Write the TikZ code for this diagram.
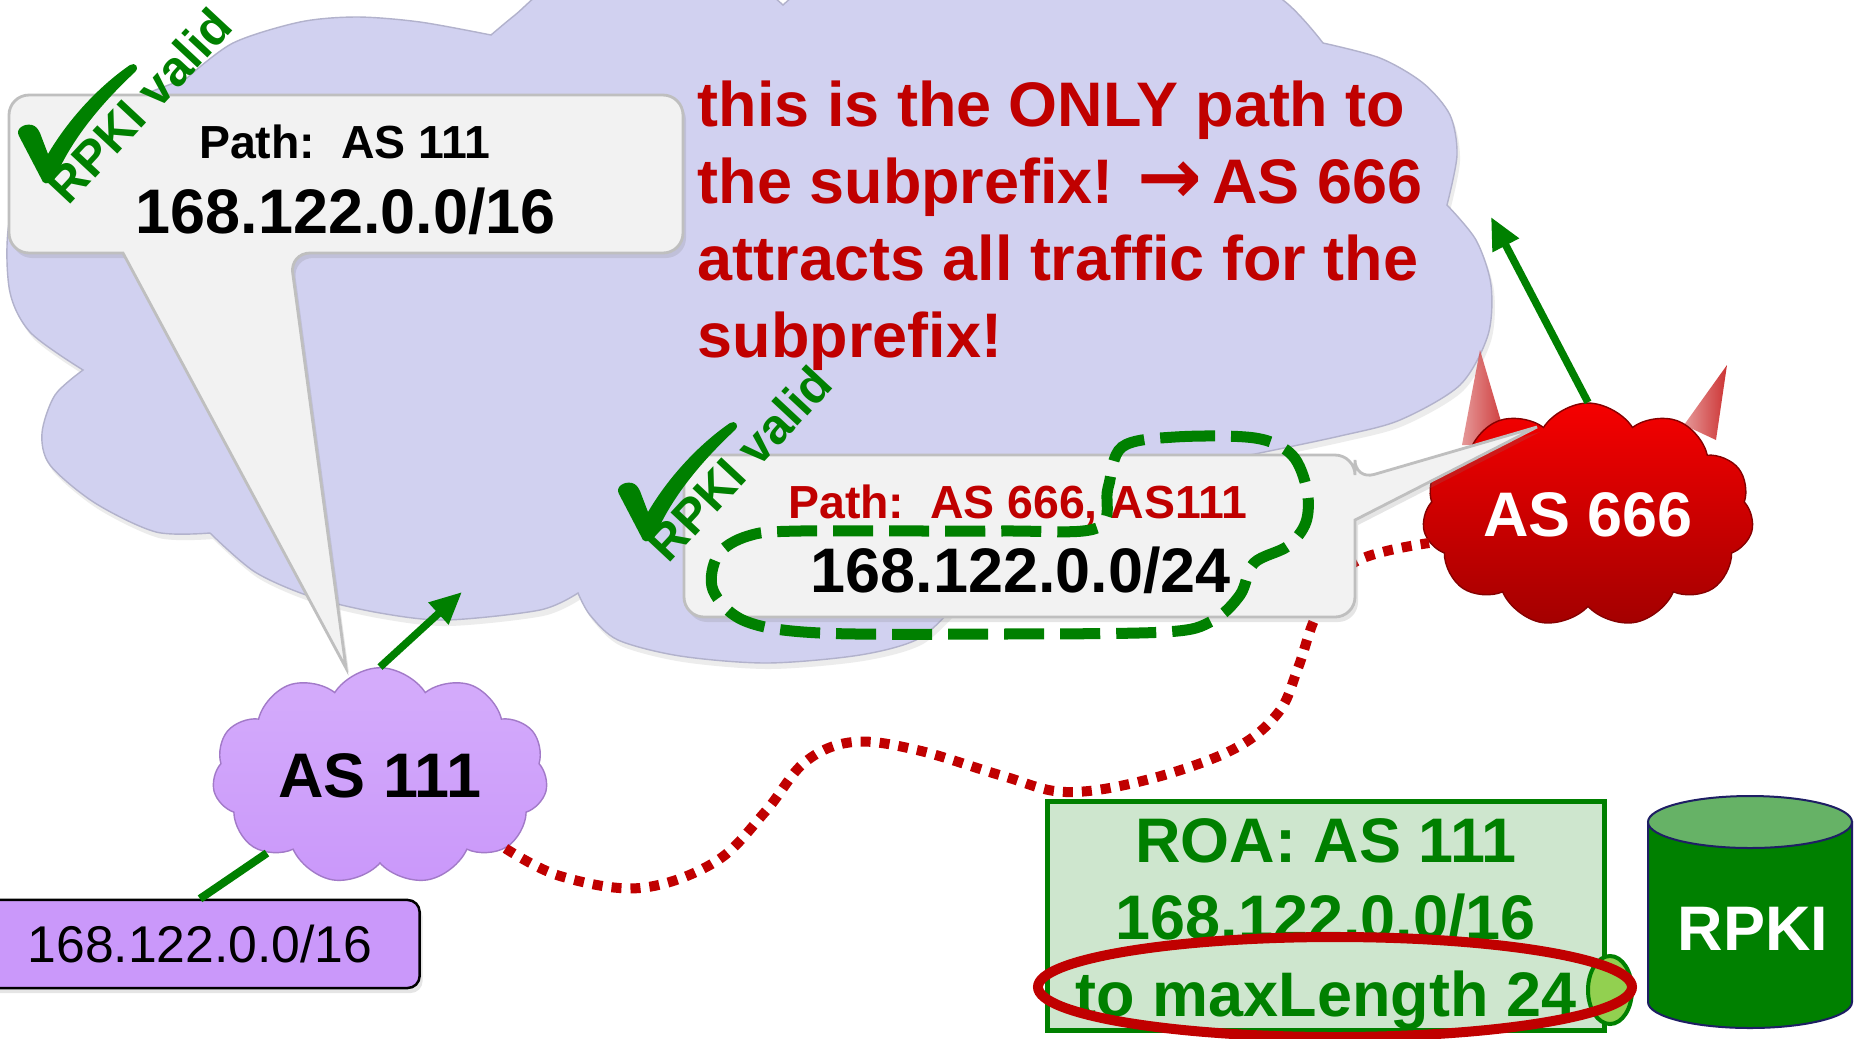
\documentclass[tikz,border=0pt]{standalone}
\usepackage{fontspec}
\setmainfont{Liberation Sans}
\newfontfamily\fleches{DejaVu Sans}
\usepackage{tikz}
\usetikzlibrary{positioning, shapes.symbols, arrows.meta, shadows}
\definecolor{lavande}{RGB}{209,209,240}
\definecolor{gris}{RGB}{242,242,242}
\definecolor{rouge}{RGB}{192,0,0}
\definecolor{vert}{RGB}{0,128,0}
\definecolor{mauve}{RGB}{202,152,250}
\definecolor{vertroa}{RGB}{206,230,206}
\definecolor{vertclair}{RGB}{146,208,80}
\definecolor{vertpale}{RGB}{102,178,102}
\definecolor{marine}{RGB}{30,30,100}
\newcommand\grand{\fontsize{17.9}{21.9}\selectfont}
\newcommand\moyen{\fontsize{13.2}{16}\selectfont}
\newcommand\petit{\fontsize{14}{16}\selectfont}

\begin{document}
\begin{tikzpicture}[x=0.01cm, y=-0.01cm,
    bulle/.style={fill=gris, draw=gray!50, line width=0.8pt,
      drop shadow={opacity=0.2, shadow xshift=0.03cm, shadow yshift=-0.05cm}},
    nuageas/.style={cloud, cloud puffs=11, cloud puff arc=115, aspect=1.6, inner sep=0pt,
      font=\bfseries\grand},
    fleche/.style={vert, line width=0.075cm, -{Triangle[length=0.32cm, width=0.28cm]}},
    pointille/.style={rouge, line width=0.1cm, dash pattern=on 0.1cm off 0.09cm},
    tirets/.style={vert, line width=0.11cm, dash pattern=on 0.4cm off 0.16cm},
    gras/.style={font=\bfseries\grand, inner sep=0pt},
    chemin/.style={font=\bfseries\moyen, inner sep=0pt},
    valide/.style={text=vert, font=\bfseries\petit, inner sep=0pt, rotate=47}]
  \useasboundingbox (0,0) rectangle (1856,1038);
  \fill[white] (0,0) rectangle (1856,1038);

  % check mark + label, origin at the bottom of the tick
  \def\okrpki#1{
    \fill[vert] (0,0) -- (-24,-46) .. controls (-28,-53) and (-19,-59) .. (-11,-57)
      .. controls (-7,-56) and (-5,-53) .. (-3,-49) -- (5,-28)
      .. controls (25,-62) and (55,-95) .. (87,-117)
      .. controls (92,-120) and (97,-115) .. (92,-110)
      .. controls (60,-80) and (30,-45) .. (13,-6)
      .. controls (10,1) and (3,3) .. (0,0) -- cycle;
    \node[valide, anchor=base] (#1) at (109,-65) {RPKI valid};
  }

  % internet
  \filldraw[fill=lavande, draw=lavande!85!black, line width=0.4pt,
      drop shadow={opacity=0.15, shadow xshift=0.03cm, shadow yshift=-0.06cm}] (83,370)
    -- plot[smooth] coordinates {(83,370) (30,332) (9,287) (12,210) (60,130) (130,100) (187,78)}
    -- plot[smooth] coordinates {(187,78) (233,43) (300,22) (357,17) (420,22) (491,35)}
    -- plot[smooth] coordinates {(491,35) (515,15) (560,-20) (650,-45) (740,-25) (783,5)}
    -- plot[smooth] coordinates {(783,5) (850,-40) (1000,-70) (1200,-50) (1283,0) (1323,43)}
    -- plot[smooth] coordinates {(1323,43) (1380,58) (1423,83) (1450,115) (1457,155) (1447,205)}
    -- plot[smooth] coordinates {(1447,205) (1476,240) (1491,285) (1488,335) (1460,385) (1400,420) (1340,436) (1250,455)}
    -- plot[smooth] coordinates {(1250,455) (1100,520) (960,600)}
    -- plot[smooth] coordinates {(960,600) (920,638) (860,655) (767,663) (680,656) (618,640) (590,615) (578,593)}
    -- plot[smooth] coordinates {(578,593) (540,610) (446,620) (380,613) (312,597) (255,572) (210,533)}
    -- plot[smooth] coordinates {(210,533) (156,532) (95,503) (50,465) (42,433) (55,395) (83,370)}
    -- cycle;

  \node[gras, text=rouge, align=left, anchor=north west] (msg) at (697,80)
    {this is the ONLY path to\\the subprefix! {\fleches\fontsize{22}{21.9}\selectfont →}\,AS 666\\attracts all traffic for the\\subprefix!};

  % origin
  \node[nuageas, top color=mauve!80!white, bottom color=mauve, draw=mauve!80!black,
    minimum width=3.35cm, minimum height=2.1cm] (as111) at (380,776) {AS 111};

  % attacker
  \shade[left color=rouge!50, right color=rouge, opacity=0.8] (1462,445) -- (1480,350) -- (1508,445) -- cycle;
  \shade[left color=rouge!50, right color=rouge, opacity=0.8] (1684,425) -- (1727,365) -- (1716,440) -- cycle;
  \node[nuageas, top color=red!85!rouge, bottom color=rouge!85!black, draw=rouge!70!black,
    text=white, minimum width=3.31cm, minimum height=2.1cm] (as666) at (1588,515) {AS 666};
  \coordinate (in2) at (1491,217);
  \draw[fleche] (as666.north) -- (in2);

  \draw[pointille] plot[smooth, tension=0.6] coordinates {(as111.-30) (560,876) (640,888)
    (715,862) (765,812) (805,762) (853,742) (917,750) (1003,776) (1066,792) (1146,780)
    (1232,750) (1278,713) (1298,668) (1318,612) (1355,562) (as666.190)};

  % announcements
  \filldraw[bulle] (346,95) [rounded corners=0.2cm] -- (683,95) -- (683,253) -- (290,253)
    [sharp corners] -- (346,668) -- (123,253) [rounded corners=0.2cm] -- (9,253) -- (9,95) -- cycle;
  \node[chemin, anchor=base] (p1) at (345,158) {Path:\ \ AS 111};
  \node[gras, anchor=base] (pfx1) at (346,233) {168.122.0.0/16};

  \filldraw[bulle] (1020,455) [rounded corners=0.2cm] -- (1355,455) -- (1355,480)
    [sharp corners] -- (1537,427) -- (1355,520) [rounded corners=0.2cm] -- (1355,617)
    -- (684,617) -- (684,455) -- cycle;
  \node[chemin, text=rouge, anchor=base] (p2) at (1018,518) {Path:\ \ AS 666, AS111};
  \node[gras, anchor=base] (pfx2) at (1021,592) {168.122.0.0/24};
  \draw[tirets] plot[smooth cycle, tension=0.55] coordinates {(1122,447) (1175,437) (1255,438)
    (1292,455) (1307,490) (1306,522) (1288,546) (1254,563) (1240,595) (1212,621) (1165,632)
    (1000,634) (820,633) (745,621) (713,590) (718,555) (748,536) (800,531) (1000,531)
    (1097,528) (1108,488)};

  \begin{scope}[shift={(43,182)}]
    \okrpki{ok1}
  \end{scope}
  \begin{scope}[shift={(643,540)}]
    \okrpki{ok2}
  \end{scope}

  \coordinate (in1) at (462,592);
  \draw[fleche] (as111.north) -- (in1);
  \node[draw=black, line width=0.025cm, fill=mauve, rounded corners=0.12cm,
    minimum width=4.39cm, minimum height=0.88cm, font=\fontsize{14.7}{17}\selectfont,
    drop shadow={opacity=0.2, shadow xshift=0.03cm, shadow yshift=-0.05cm}] (pfx) at (200,944) {168.122.0.0/16};
  \draw[vert, line width=0.08cm] (pfx.north) -- (as111);

  % ROA
  \node[draw=vert, line width=0.05cm, fill=vertroa, minimum width=5.56cm, minimum height=2.28cm] (roa) at (1326,916) {};
  \node[gras, text=vert, align=center] (roatxt) at (1326,924) {ROA: AS 111\\168.122.0.0/16\\to maxLength 24};
  \draw[vert, line width=0.04cm, fill=vertclair] (1610,990) ellipse [x radius=22, y radius=34];
  \draw[rouge, line width=0.1cm] (1335,987) ellipse [x radius=297, y radius=50];

  % repository
  \filldraw[fill=vert, draw=marine, line width=0.02cm] (1648,822) -- (1648,1002)
    arc[start angle=180, end angle=0, x radius=102, y radius=26] -- (1852,822) -- cycle;
  \filldraw[fill=vertpale, draw=marine, line width=0.02cm] (1750,822) ellipse [x radius=102, y radius=26];
  \node[gras, text=white, anchor=base] (rpki) at (1753,950) {RPKI};
\end{tikzpicture}
\end{document}
